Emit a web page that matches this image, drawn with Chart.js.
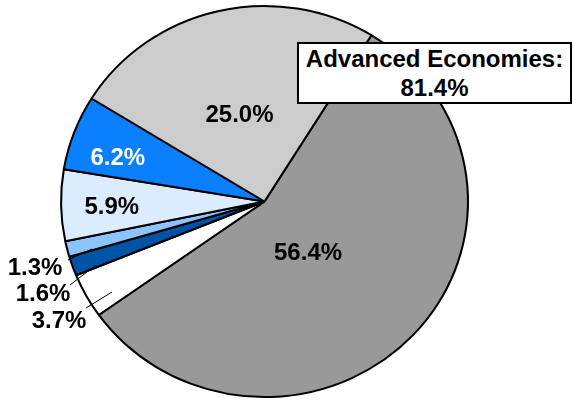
<!DOCTYPE html>
<html lang="en">
<head>
  <meta charset="UTF-8" />
  <title>Advanced Economies share</title>
  <script src="https://cdn.jsdelivr.net/npm/chart.js"></script>
  <style>
    body {
      margin: 0;
      background: white;
    }
    #wrap {
      position: relative;
      width: 573px;
      height: 401px;
    }
    .callout {
      position: absolute;
      left: 297px;
      top: 42px;
      width: 271px;
      height: 58px;
      background: white;
      border: 2px solid black;
      font-family: "Liberation Sans", Arial, sans-serif;
      font-weight: bold;
      font-size: 24px;
      line-height: 29px;
      text-align: center;
    }
  </style>
</head>
<body>
  <div id="wrap">
    <canvas id="pie" width="573" height="401"></canvas>
    <div class="callout">Advanced Economies:<br>81.4%</div>
  </div>

  <script>
    const labels = ["Group A", "Group B", "Group C", "Group D", "Group E", "Group F", "Group G"];
    const shares = [56.4, 3.7, 1.6, 1.3, 5.9, 6.2, 25.0];
    const sliceColors = ["#999999", "#ffffff", "#0054a6", "#8cc4ff", "#dbecff", "#0a80ff", "#cccccc"];

    // label placement per slice: inside (radius fraction, angle nudge in degrees) or outside with a leader line
    const labelSpots = [
      { r: 0.34, dA: 6.7, color: "#000" },
      { out: true, tx: 59, ty: 321, line: [86, 308, 112, 292] },
      { out: true, tx: 43, ty: 294, line: [70, 285, 96, 265] },
      { out: true, tx: 35, ty: 268, line: [68, 260, 92, 249] },
      { r: 0.77, dA: -1.2, color: "#000" },
      { r: 0.77, dA: -4.3, color: "#fff" },
      { r: 0.45, dA: -3, color: "#000" }
    ];

    // the original pie is a touch wider than tall
    const squash = { sx: 1.025, sy: 0.985 };
    const ellipse = {
      id: "ellipse",
      beforeDatasetsDraw(chart) {
        const arc = chart.getDatasetMeta(0).data[0];
        const ctx = chart.ctx;
        ctx.save();
        ctx.translate(arc.x, arc.y);
        ctx.scale(squash.sx, squash.sy);
        ctx.translate(-arc.x, -arc.y);
      },
      afterDatasetsDraw(chart) {
        chart.ctx.restore();
      }
    };

    const pctLabels = {
      id: "pctLabels",
      afterDatasetsDraw(chart) {
        const ctx = chart.ctx;
        const arcs = chart.getDatasetMeta(0).data;
        ctx.save();
        ctx.font = "bold 24px 'Liberation Sans', Arial, sans-serif";
        ctx.textAlign = "center";
        ctx.textBaseline = "middle";
        arcs.forEach((arc, i) => {
          const spot = labelSpots[i];
          const txt = shares[i].toFixed(1) + "%";
          if (spot.out) {
            ctx.strokeStyle = "#000";
            ctx.lineWidth = 1;
            ctx.beginPath();
            ctx.moveTo(spot.line[0], spot.line[1]);
            ctx.lineTo(spot.line[2], spot.line[3]);
            ctx.stroke();
            ctx.fillStyle = "#000";
            ctx.fillText(txt, spot.tx, spot.ty);
          } else {
            const mid = (arc.startAngle + arc.endAngle) / 2 + spot.dA * Math.PI / 180;
            const rr = arc.outerRadius * spot.r;
            ctx.fillStyle = spot.color;
            ctx.fillText(txt, arc.x + Math.cos(mid) * rr, arc.y + Math.sin(mid) * rr);
          }
        });
        ctx.restore();
      }
    };

    new Chart(document.getElementById("pie"), {
      type: "pie",
      data: {
        labels: labels,
        datasets: [{
          data: shares,
          backgroundColor: sliceColors,
          borderColor: "#000000",
          borderWidth: 2,
          borderAlign: "center"
        }]
      },
      options: {
        responsive: false,
        animation: false,
        rotation: 31.7,
        layout: { padding: { left: 64, right: 108, top: 2, bottom: 0 } },
        plugins: {
          legend: { display: false },
          tooltip: { enabled: false }
        }
      },
      plugins: [ellipse, pctLabels]
    });
  </script>
</body>
</html>
